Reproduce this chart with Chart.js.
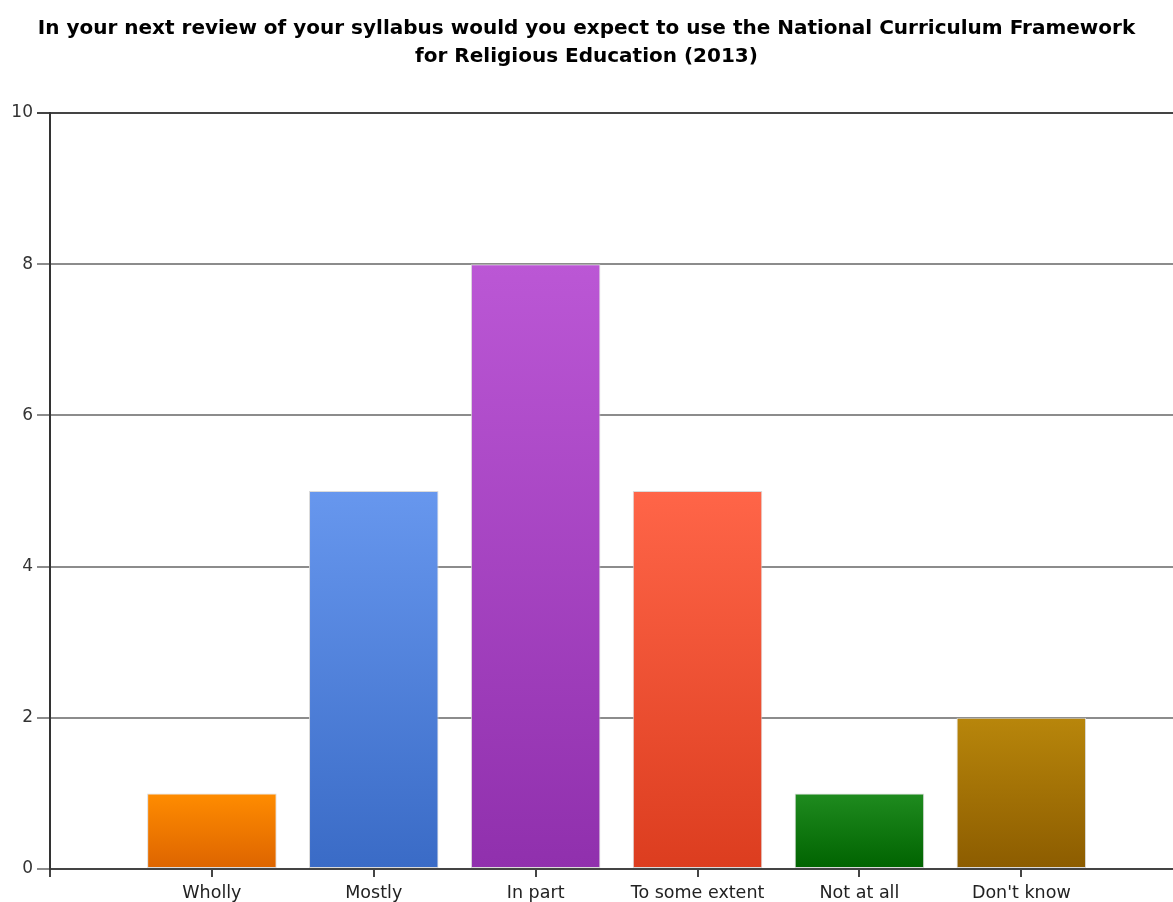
<!DOCTYPE html>
<html>
<head>
<meta charset="utf-8">
<script src="https://cdn.jsdelivr.net/npm/chart.js@4.4.1/dist/chart.umd.min.js"></script>
<style>
  html, body { margin: 0; padding: 0; background: #fff; overflow: hidden; }
  #wrap { position: relative; width: 1173px; height: 902px; }
</style>
</head>
<body>
<div id="wrap"><canvas id="c" width="1173" height="902"></canvas></div>
<script>
// ---- data ----
const titleLines = [
  "In your next review of your syllabus would you expect to use the National Curriculum Framework",
  "for Religious Education (2013)"
];
const categories = ["Wholly", "Mostly", "In part", "To some extent", "Not at all", "Don't know"];
const values = [1, 5, 8, 5, 1, 2];
const yTicks = [0, 2, 4, 6, 8, 10];

// ---- styles ----
const topColors    = ["#ff8c00", "#6797ee", "#bb57d5", "#ff6548", "#1f8b1f", "#b8860b"];
const bottomColors = ["#dd6400", "#3a6bc6", "#9030ad", "#dc3d1f", "#006300", "#8c5c00"];

const points = categories.map((c, i) => ({ x: i + 1, y: values[i] }));

function barFill(ctx) {
  const chart = ctx.chart;
  const area = chart.chartArea;
  if (!area || ctx.type !== 'data') return topColors[ctx.dataIndex];
  const ys = chart.scales.y;
  const top = ys.getPixelForValue(values[ctx.dataIndex]);
  const base = ys.getPixelForValue(0);
  const g = chart.ctx.createLinearGradient(0, top, 0, base);
  g.addColorStop(0, topColors[ctx.dataIndex]);
  g.addColorStop(1, bottomColors[ctx.dataIndex]);
  return g;
}

new Chart(document.getElementById('c'), {
  type: 'bar',
  data: {
    datasets: [{
      data: points,
      backgroundColor: barFill,
      borderColor: 'rgba(215,215,215,0.9)',
      borderWidth: 1,
      borderSkipped: false,
      barPercentage: 0.8,
      categoryPercentage: 1.0
    }]
  },
  options: {
    responsive: false,
    animation: false,
    devicePixelRatio: 1,
    layout: { padding: 0 },
    plugins: {
      legend: { display: false },
      tooltip: { enabled: false },
      title: {
        display: true,
        text: titleLines,
        color: '#000',
        font: { family: 'DejaVu Sans, Verdana, sans-serif', size: 20, weight: 'bold', lineHeight: 1.4 },
        padding: { top: 15, bottom: 42 }
      }
    },
    scales: {
      x: {
        type: 'linear',
        min: 0,
        max: 6.937,
        offset: false,
        afterBuildTicks: (scale) => {
          scale.ticks = [0, 1, 2, 3, 4, 5, 6].map(v => ({ value: v }));
        },
        afterFit: (scale) => { scale.height = 33; },
        ticks: {
          includeBounds: false,
          autoSkip: false,
          maxRotation: 0,
          minRotation: 0,
          padding: 6,
          color: '#222',
          font: { family: 'DejaVu Sans, Verdana, sans-serif', size: 17.5 },
          callback: (v) => categories[v - 1] ?? ''
        },
        grid: {
          display: true,
          offset: false,
          drawOnChartArea: false,
          drawTicks: true,
          tickLength: 8,
          color: '#444',
          lineWidth: 2
        },
        border: { display: true, color: '#444', width: 2 }
      },
      y: {
        min: 0,
        max: 10,
        afterBuildTicks: (scale) => {
          scale.ticks = yTicks.map(v => ({ value: v }));
        },
        afterFit: (scale) => { scale.width = 50; },
        ticks: {
          padding: 4,
          color: '#333',
          font: { family: 'DejaVu Sans, Verdana, sans-serif', size: 17 },
          callback: (v) => String(v)
        },
        grid: {
          color: (ctx) => (ctx.tick && ctx.tick.value === 10) ? '#444' : '#8c8c8c',
          lineWidth: 2,
          tickLength: 13,
          drawTicks: true
        },
        border: { display: true, color: '#333', width: 2 }
      }
    }
  }
});
</script>
</body>
</html>
